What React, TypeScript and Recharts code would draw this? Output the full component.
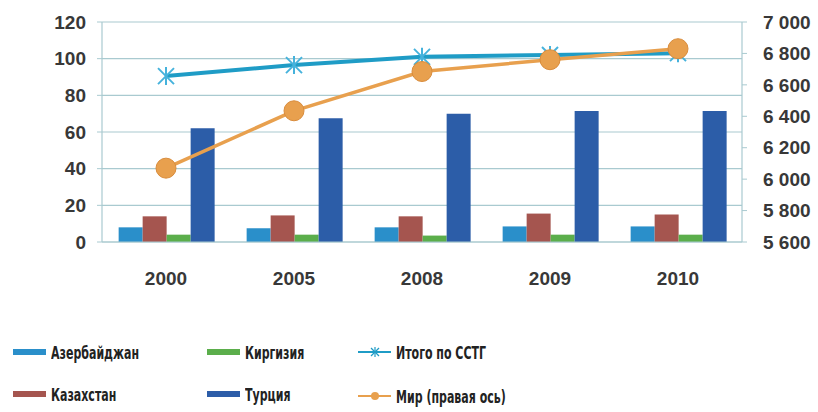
import React from "react"
import { ComposedChart, Bar, Line, XAxis, YAxis, CartesianGrid } from "recharts"

const years = ["2000", "2005", "2008", "2009", "2010"]
const azerbaijan = [8, 7.5, 8, 8.5, 8.5]
const kazakhstan = [14, 14.5, 14, 15.5, 15]
const kyrgyzstan = [4, 4, 3.5, 4, 4]
const turkey = [62, 67.5, 70, 71.5, 71.5]
const totalCstg = [90.5, 96.5, 101, 102, 103]
const world = [6070, 6435, 6685, 6760, 6830]

const leftTicks = [0, 20, 40, 60, 80, 100, 120]
const rightTicks = [5600, 5800, 6000, 6200, 6400, 6600, 6800, 7000]

const C = {
  az: "#2a8fca",
  kaz: "#a5554f",
  kir: "#5bae4b",
  tur: "#2c5da8",
  total: "#1f9cc6",
  world: "#e8a04e",
  grid: "#a9cad0",
  text: "#383838",
}

const data = years.map((year, i) => ({
  year,
  az: azerbaijan[i],
  kaz: kazakhstan[i],
  kir: kyrgyzstan[i],
  tur: turkey[i],
  total: totalCstg[i],
  world: world[i],
}))

const tickFont = { fontFamily: "'Liberation Sans', Arial, sans-serif", fontSize: 19, fontWeight: 700, fill: C.text }
const legendFont = "'Liberation Sans Narrow', 'DejaVu Sans Condensed', 'Liberation Sans', sans-serif"

const withSpaces = (v: number) => String(v).replace(/\B(?=(\d{3})+(?!\d))/g, " ")

function StarDot(props: any) {
  const { cx, cy } = props
  if (cx == null || cy == null) return null
  const s = 8
  return (
    <g stroke="#45b2dc" strokeWidth={2}>
      <line x1={cx - s} y1={cy - s} x2={cx + s} y2={cy + s} />
      <line x1={cx - s} y1={cy + s} x2={cx + s} y2={cy - s} />
      <line x1={cx} y1={cy - s - 1} x2={cx} y2={cy + s + 1} />
    </g>
  )
}

function LegendItem({ x, y, label, color, kind }: { x: number; y: number; label: string; color: string; kind: "bar" | "star" | "dot" }) {
  return (
    <div style={{ position: "absolute", left: x, top: y - 12, height: 24, display: "flex", alignItems: "center", whiteSpace: "nowrap" }}>
      <svg width={34} height={14} style={{ marginRight: 4, flex: "none" }}>
        {kind === "bar" && <rect x={0} y={4} width={33} height={6} fill={color} />}
        {kind !== "bar" && <line x1={0} y1={7} x2={33} y2={7} stroke={color} strokeWidth={2} />}
        {kind === "star" && (
          <g stroke={color} strokeWidth={1.2}>
            <line x1={13} y1={3} x2={21} y2={11} />
            <line x1={13} y1={11} x2={21} y2={3} />
            <line x1={17} y1={2} x2={17} y2={12} />
          </g>
        )}
        {kind === "dot" && <circle cx={17} cy={7} r={4} fill={color} />}
      </svg>
      <span
        style={{
          display: "inline-block",
          fontFamily: legendFont,
          fontWeight: 700,
          fontSize: 18,
          color: "#222",
          transform: "scaleX(0.68)",
          transformOrigin: "left center",
        }}
      >
        {label}
      </span>
    </div>
  )
}

export default function App() {
  return (
    <div style={{ position: "fixed", left: 0, top: 0, width: 818, height: 412, background: "#fff" }}>
      <ComposedChart
        width={818}
        height={300}
        data={data}
        margin={{ top: 22, right: 10, left: 10, bottom: 18 }}
        barGap={0}
        barCategoryGap="13%"
      >
        <CartesianGrid yAxisId="left" vertical={false} stroke={C.grid} strokeWidth={1.2} />
        <XAxis
          dataKey="year"
          height={40}
          tickLine={false}
          tickSize={0}
          tickMargin={30}
          axisLine={{ stroke: C.grid, strokeWidth: 1.2 }}
          tick={tickFont}
        />
        <YAxis
          yAxisId="left"
          width={92}
          domain={[0, 120]}
          ticks={leftTicks}
          interval={0}
          tickSize={5}
          tickMargin={11}
          tickLine={{ stroke: C.grid }}
          axisLine={{ stroke: C.grid, strokeWidth: 1.2 }}
          tick={tickFont}
        />
        <YAxis
          yAxisId="right"
          orientation="right"
          width={66}
          domain={[5600, 7000]}
          ticks={rightTicks}
          interval={0}
          tickSize={5}
          tickMargin={16}
          tickLine={{ stroke: C.grid }}
          axisLine={{ stroke: C.grid, strokeWidth: 1.2 }}
          tick={tickFont}
          tickFormatter={withSpaces}
        />
        <Bar yAxisId="left" dataKey="az" fill={C.az} isAnimationActive={false} />
        <Bar yAxisId="left" dataKey="kaz" fill={C.kaz} isAnimationActive={false} />
        <Bar yAxisId="left" dataKey="kir" fill={C.kir} isAnimationActive={false} />
        <Bar yAxisId="left" dataKey="tur" fill={C.tur} isAnimationActive={false} />
        <Line
          yAxisId="left"
          dataKey="total"
          stroke={C.total}
          strokeWidth={4}
          dot={<StarDot />}
          activeDot={false}
          isAnimationActive={false}
        />
        <Line
          yAxisId="right"
          dataKey="world"
          stroke={C.world}
          strokeWidth={3.5}
          dot={{ r: 10, fill: C.world, stroke: "#d98c3c", strokeWidth: 1 }}
          activeDot={false}
          isAnimationActive={false}
        />
      </ComposedChart>

      <LegendItem x={13} y={352} label="Азербайджан" color={C.az} kind="bar" />
      <LegendItem x={207} y={352} label="Киргизия" color={C.kir} kind="bar" />
      <LegendItem x={358} y={352} label="Итого по ССТГ" color={C.total} kind="star" />
      <LegendItem x={13} y={394} label="Казахстан" color={C.kaz} kind="bar" />
      <LegendItem x={207} y={394} label="Турция" color={C.tur} kind="bar" />
      <LegendItem x={358} y={396} label="Мир (правая ось)" color={C.world} kind="dot" />
    </div>
  )
}
